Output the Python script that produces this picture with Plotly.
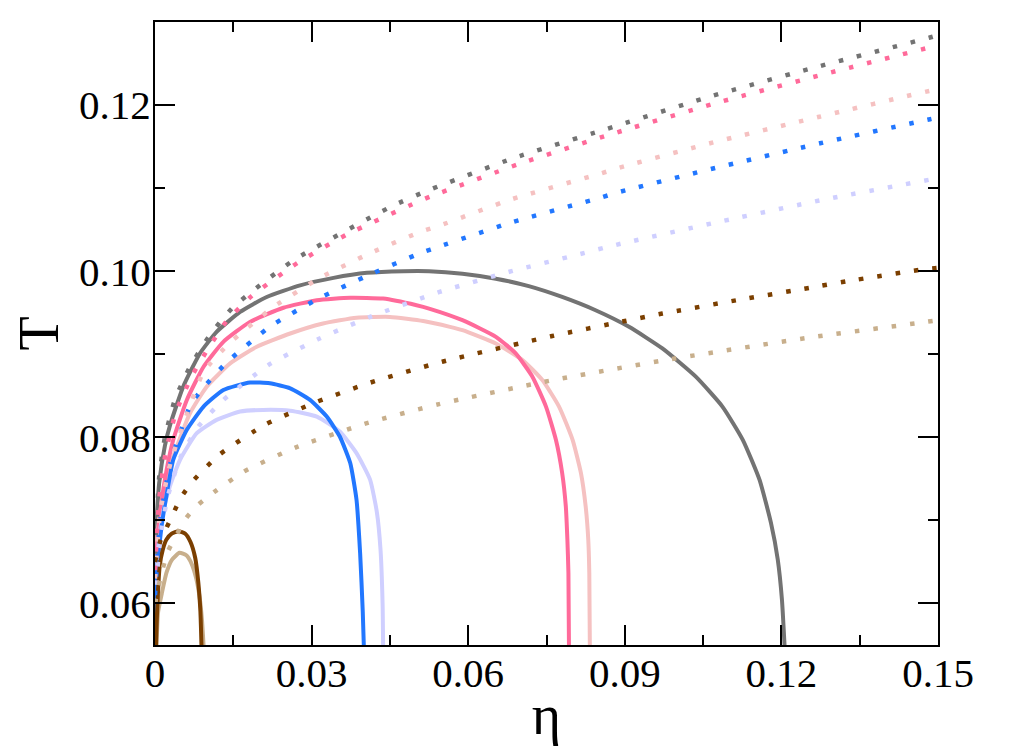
import plotly.graph_objects as go

# solid curves (eta, T)
gray_eta = [0.0, 0.0003, 0.0008, 0.0019, 0.0029, 0.0054, 0.0086, 0.0118, 0.0163, 0.0214, 0.0278, 0.0342, 0.0406, 0.0476,
            0.0525, 0.0589, 0.0653, 0.0716, 0.0780, 0.0844, 0.0908, 0.0972, 0.1036, 0.1087, 0.1126, 0.1158, 0.1180,
            0.1193, 0.1201, 0.1206]
gray_T = [0.0660, 0.0700, 0.0745, 0.0790, 0.0815, 0.0861, 0.0901, 0.0927, 0.0951, 0.0969, 0.0983, 0.0992, 0.0998, 0.1000,
          0.1000, 0.0997, 0.0991, 0.0982, 0.0969, 0.0953, 0.0933, 0.0907, 0.0873, 0.0837, 0.0797, 0.0749, 0.0697,
          0.0653, 0.0605, 0.0550]

pink_eta = [0.0, 0.0004, 0.0012, 0.0022, 0.0035, 0.0061, 0.0093, 0.0131, 0.0182, 0.0246, 0.0310, 0.0374, 0.0437, 0.0501,
            0.0525, 0.0589, 0.0653, 0.0691, 0.0723, 0.0749, 0.0768, 0.0780, 0.0787, 0.0790, 0.0792, 0.0793]
pink_T = [0.0620, 0.0670, 0.0720, 0.0760, 0.0797, 0.0845, 0.0885, 0.0915, 0.0939, 0.0956, 0.0965, 0.0968, 0.0967, 0.0959,
          0.0955, 0.0941, 0.0921, 0.0901, 0.0873, 0.0837, 0.0797, 0.0757, 0.0717, 0.0677, 0.0637, 0.0550]

lpink_eta = [0.0, 0.0005, 0.0014, 0.0026, 0.0042, 0.0067, 0.0099, 0.0144, 0.0195, 0.0259, 0.0322, 0.0386, 0.0450, 0.0514,
             0.0565, 0.0589, 0.0653, 0.0704, 0.0742, 0.0774, 0.0800, 0.0816, 0.0825, 0.0830, 0.0832, 0.0833]
lpink_T = [0.0640, 0.0685, 0.0725, 0.0760, 0.0789, 0.0829, 0.0861, 0.0889, 0.0909, 0.0925, 0.0937, 0.0944, 0.0945, 0.0940,
           0.0933, 0.0929, 0.0913, 0.0893, 0.0869, 0.0837, 0.0797, 0.0757, 0.0717, 0.0677, 0.0637, 0.0550]

blue_eta = [0.0, 0.0004, 0.0012, 0.0022, 0.0035, 0.0061, 0.0093, 0.0131, 0.0182, 0.0220, 0.0259, 0.0297, 0.0329, 0.0354,
            0.0374, 0.0386, 0.0393, 0.0398, 0.0400]
blue_T = [0.0580, 0.0640, 0.0690, 0.0730, 0.0773, 0.0809, 0.0837, 0.0857, 0.0866, 0.0865, 0.0859, 0.0845, 0.0825, 0.0801,
          0.0769, 0.0725, 0.0660, 0.0590, 0.0550]

lav_eta = [0.0, 0.0005, 0.0014, 0.0028, 0.0048, 0.0080, 0.0118, 0.0163, 0.0207, 0.0259, 0.0310, 0.0354, 0.0386, 0.0412,
           0.0425, 0.0432, 0.0436, 0.0437]
lav_T = [0.0610, 0.0660, 0.0705, 0.0740, 0.0773, 0.0805, 0.0821, 0.0831, 0.0833, 0.0832, 0.0825, 0.0807, 0.0781, 0.0749,
         0.0710, 0.0665, 0.0600, 0.0550]

brown_eta = [0.0002, 0.0004, 0.0009, 0.0015, 0.0022, 0.0032, 0.0045, 0.0058, 0.0068, 0.0077, 0.0083, 0.0087, 0.0089]
brown_T = [0.0550, 0.0590, 0.0645, 0.0665, 0.0677, 0.0684, 0.0687, 0.0684, 0.0674, 0.0655, 0.0625, 0.0590, 0.0550]

tan_eta = [0.0003, 0.0006, 0.0013, 0.0022, 0.0033, 0.0047, 0.0060, 0.0070, 0.0079, 0.0086, 0.0090, 0.0093]
tan_T = [0.0550, 0.0590, 0.0612, 0.0637, 0.0653, 0.0661, 0.0658, 0.0648, 0.0630, 0.0605, 0.0580, 0.0550]

# dotted curves
gray_d_eta = [0.0, 0.0008, 0.0019, 0.0038, 0.0067, 0.0105, 0.0150, 0.0265, 0.0453, 0.0518, 0.0686, 0.0859, 0.1067,
              0.1274, 0.1483, 0.1500]
gray_d_T = [0.0660, 0.0752, 0.0800, 0.0845, 0.0885, 0.0923, 0.0957, 0.1013, 0.1078, 0.1096, 0.1136, 0.1170, 0.1211,
            0.1247, 0.1281, 0.1284]

pink_d_eta = [0.0, 0.0008, 0.0020, 0.0040, 0.0070, 0.0100, 0.0136, 0.0185, 0.0273, 0.0367, 0.0498, 0.0528, 0.0697,
              0.0869, 0.1078, 0.1287, 0.1494, 0.1500]
pink_d_T = [0.0640, 0.0725, 0.0780, 0.0830, 0.0873, 0.0905, 0.0939, 0.0970, 0.1010, 0.1044, 0.1082, 0.1090, 0.1129,
            0.1164, 0.1203, 0.1238, 0.1271, 0.1272]

lpink_d_eta = [0.0, 0.0010, 0.0030, 0.0060, 0.0093, 0.0142, 0.0227, 0.0316, 0.0413, 0.0511, 0.0546, 0.0680, 0.0856,
               0.0886, 0.1063, 0.1273, 0.1483, 0.1500]
lpink_d_T = [0.0630, 0.0710, 0.0770, 0.0826, 0.0879, 0.0913, 0.0957, 0.0992, 0.1022, 0.1048, 0.1055, 0.1086, 0.1118,
             0.1124, 0.1154, 0.1186, 0.1217, 0.1219]

blue_d_eta = [0.0, 0.0010, 0.0030, 0.0068, 0.0089, 0.0137, 0.0222, 0.0313, 0.0412, 0.0509, 0.0546, 0.0679, 0.0856,
              0.0887, 0.1065, 0.1274, 0.1485, 0.1500]
blue_d_T = [0.0610, 0.0700, 0.0770, 0.0839, 0.0857, 0.0890, 0.0934, 0.0967, 0.0996, 0.1022, 0.1030, 0.1058, 0.1089,
            0.1095, 0.1123, 0.1154, 0.1183, 0.1185]

lav_d_eta = [0.0, 0.0010, 0.0025, 0.0048, 0.0083, 0.0131, 0.0217, 0.0312, 0.0412, 0.0545, 0.0683, 0.0823, 0.0859,
             0.0892, 0.1070, 0.1280, 0.1491, 0.1500]
lav_d_T = [0.0600, 0.0680, 0.0730, 0.0775, 0.0813, 0.0845, 0.0887, 0.0918, 0.0945, 0.0975, 0.1000, 0.1022, 0.1028,
           0.1033, 0.1058, 0.1086, 0.1111, 0.1112]

brown_d_eta = [0.0, 0.0010, 0.0019, 0.0034, 0.0050, 0.0072, 0.0123, 0.0213, 0.0311, 0.0413, 0.0550, 0.0761, 0.0900,
               0.0972, 0.1114, 0.1254, 0.1327, 0.1469, 0.1500]
brown_d_T = [0.0650, 0.0675, 0.0687, 0.0707, 0.0728, 0.0747, 0.0779, 0.0816, 0.0843, 0.0866, 0.0891, 0.0922, 0.0940,
             0.0949, 0.0965, 0.0980, 0.0988, 0.1002, 0.1004]

tan_d_eta = [0.0, 0.0012, 0.0025, 0.0060, 0.0083, 0.0113, 0.0171, 0.0270, 0.0406, 0.0544, 0.0755, 0.0968, 0.1252,
             0.1466, 0.1500]
tan_d_T = [0.0600, 0.0635, 0.0663, 0.0703, 0.0719, 0.0734, 0.0759, 0.0788, 0.0817, 0.0840, 0.0868, 0.0892, 0.0920,
           0.0938, 0.0941]

GRAY = "#737373"
PINK = "#ff6a9a"
LPINK = "#f5c1c1"
BLUE = "#2277ff"
LAV = "#cfcfff"
BROWN = "#7b3f00"
TAN = "#c8af8c"

solids = [(gray_eta, gray_T, GRAY), (lpink_eta, lpink_T, LPINK), (pink_eta, pink_T, PINK),
          (lav_eta, lav_T, LAV), (blue_eta, blue_T, BLUE), (tan_eta, tan_T, TAN), (brown_eta, brown_T, BROWN)]
dotted = [(lav_d_eta, lav_d_T, LAV), (blue_d_eta, blue_d_T, BLUE), (lpink_d_eta, lpink_d_T, LPINK),
          (gray_d_eta, gray_d_T, GRAY), (pink_d_eta, pink_d_T, PINK),
          (tan_d_eta, tan_d_T, TAN), (brown_d_eta, brown_d_T, BROWN)]

fig = go.Figure()
for ex, ty, c in solids:
    fig.add_trace(go.Scatter(x=ex, y=ty, mode="lines", line=dict(color=c, width=4, shape="spline", smoothing=0.5),
                             showlegend=False, hoverinfo="skip"))
for ex, ty, c in dotted:
    fig.add_trace(go.Scatter(x=ex, y=ty, mode="lines",
                             line=dict(color=c, width=4.5, dash="4.5px,14px", shape="spline", smoothing=0.5),
                             showlegend=False, hoverinfo="skip"))

axis_common = dict(showline=True, linecolor="black", linewidth=2, mirror="ticks", ticks="inside",
                   ticklen=20, tickwidth=2, tickcolor="black", showgrid=False, zeroline=False,
                   tickfont=dict(family="Liberation Serif", size=41, color="black"))

fig.update_xaxes(range=[0, 0.15], dtick=0.03, tick0=0, ticklabelstandoff=-9,
                 minor=dict(dtick=0.015, ticks="inside", ticklen=10, tickwidth=2, tickcolor="black", showgrid=False),
                 title=dict(text="η", font=dict(family="Liberation Serif", size=56, color="black"), standoff=0),
                 **axis_common)
fig.update_yaxes(range=[0.055, 0.130], dtick=0.02, tick0=0.06, tickformat=".2f", ticklabelstandoff=-6,
                 minor=dict(dtick=0.01, tick0=0.06, ticks="inside", ticklen=10, tickwidth=2, tickcolor="black",
                            showgrid=False),
                 title=dict(text="T", font=dict(family="Liberation Serif", size=56, color="black"), standoff=14),
                 **axis_common)

# page body has an 8px margin, so the plot box is shifted back by that much
fig.update_layout(width=1011, height=750, margin=dict(l=147, r=81, t=12, b=113),
                  plot_bgcolor="white", paper_bgcolor="white")

fig.write_html("out.html")
